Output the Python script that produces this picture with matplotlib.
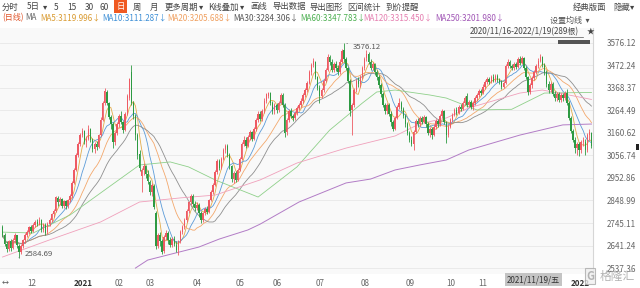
import numpy as np
import pandas as pd
import matplotlib
matplotlib.use('Agg')
import matplotlib.pyplot as plt
from matplotlib import transforms

plt.rcParams['font.family'] = ['Noto Sans CJK SC', 'DejaVu Sans']

# 日K 数据 2020/11/16 - 2022/1/19 (289根), 按月分行
opens = [
    2725, 2690, 2650, 2625, 2660, 2632, 2668, 2688, 2640, 2612, 2640,
    2665, 2690, 2703, 2725, 2710, 2735, 2750, 2742, 2760, 2715, 2735, 2702, 2740, 2760, 2785, 2800, 2862, 2840, 2855, 2825, 2845, 2822, 2850,
    2870, 2930, 2990, 3060, 3110, 3150, 3168, 3120, 3135, 3178, 3130, 3085, 3110, 3095, 3150, 3220, 3300, 3350, 3300, 3235,
    3200, 3120, 3160, 3200, 3240, 3210, 3175, 3250, 3320, 3440, 3300, 3240, 3150, 3065, 2960,
    2990, 3010, 2970, 2935, 2890, 2915, 2790, 2640, 2690, 2660, 2615, 2680, 2700, 2665, 2645, 2670, 2645, 2620, 2660, 2705, 2725, 2760, 2800,
    2840, 2870, 2835, 2815, 2830, 2790, 2760, 2790, 2810, 2795, 2850, 2890, 2920, 2980, 3030, 3000, 3040, 3080, 3100, 3060, 3010,
    2950, 2975, 2945, 2990, 3040, 3110, 3130, 3100, 3140, 3165, 3135, 3180, 3220, 3250, 3225, 3260, 3310, 3330,
    3345, 3300, 3260, 3290, 3265, 3300, 3335, 3290, 3165, 3220, 3260, 3240, 3230, 3255, 3275, 3290, 3310, 3335, 3360, 3390, 3440,
    3475, 3490, 3420, 3370, 3330, 3360, 3400, 3450, 3510, 3490, 3450, 3480, 3460, 3440, 3490, 3545, 3500, 3460, 3400, 3265, 3290, 3360,
    3400, 3385, 3420, 3460, 3505, 3525, 3490, 3460, 3480, 3440, 3420, 3380, 3340, 3290, 3260, 3290, 3250, 3210, 3180, 3230, 3280, 3300,
    3270, 3240, 3200, 3160, 3130, 3110, 3165, 3215, 3200, 3230, 3210, 3235, 3200, 3160, 3180, 3150, 3190, 3215, 3200, 3240,
    3260, 3210, 3150, 3190, 3220, 3245, 3265, 3255, 3280, 3270, 3300, 3330, 3290, 3305, 3280, 3300,
    3320, 3335, 3355, 3345, 3375, 3395, 3410, 3395, 3420, 3400, 3425, 3405, 3395, 3375, 3390, 3470, 3490, 3470, 3460, 3480, 3465, 3500,
    3485, 3505, 3460, 3420, 3350, 3380, 3415, 3440, 3470, 3495, 3510, 3475, 3440, 3385, 3360, 3385, 3340, 3320, 3340, 3315, 3335, 3320, 3345,
    3300, 3230, 3170, 3130, 3090, 3110, 3080, 3120, 3120, 3080, 3150, 3160,
]
highs = [
    2735, 2700, 2660, 2668, 2672, 2675, 2700, 2692, 2650, 2648, 2672,
    2700, 2715, 2732, 2735, 2745, 2758, 2765, 2772, 2765, 2745, 2745, 2748, 2768, 2792, 2810, 2872, 2870, 2865, 2860, 2852, 2850, 2858, 2878,
    2938, 2998, 3068, 3120, 3162, 3185, 3175, 3145, 3198, 3182, 3138, 3120, 3125, 3158, 3235, 3310, 3368, 3360, 3305, 3245,
    3210, 3170, 3210, 3250, 3262, 3218, 3258, 3340, 3415, 3474, 3310, 3250, 3160, 3080, 3000,
    3020, 3015, 2990, 2945, 2930, 2925, 2800, 2700, 2705, 2670, 2690, 2712, 2708, 2680, 2680, 2685, 2660, 2668, 2712, 2735, 2768, 2808, 2848,
    2880, 2878, 2845, 2840, 2838, 2800, 2798, 2820, 2822, 2858, 2898, 2930, 2990, 3040, 3040, 3050, 3090, 3110, 3108, 3068, 3015,
    2985, 2985, 3000, 3050, 3118, 3145, 3140, 3150, 3175, 3172, 3190, 3228, 3260, 3262, 3270, 3320, 3345, 3352,
    3350, 3310, 3300, 3300, 3310, 3345, 3345, 3298, 3230, 3270, 3275, 3250, 3262, 3285, 3300, 3320, 3345, 3370, 3400, 3450, 3485,
    3505, 3495, 3425, 3380, 3370, 3410, 3460, 3525, 3520, 3500, 3490, 3495, 3475, 3500, 3550, 3576.12, 3510, 3465, 3410, 3300, 3370, 3410,
    3420, 3430, 3470, 3510, 3545, 3535, 3500, 3490, 3485, 3450, 3430, 3390, 3350, 3300, 3300, 3300, 3260, 3220, 3240, 3290, 3320, 3310,
    3280, 3250, 3210, 3170, 3145, 3175, 3225, 3230, 3240, 3240, 3245, 3240, 3210, 3190, 3190, 3200, 3225, 3225, 3250, 3270,
    3265, 3215, 3200, 3230, 3255, 3275, 3280, 3290, 3295, 3310, 3330, 3345, 3315, 3315, 3310, 3330,
    3345, 3365, 3365, 3385, 3405, 3420, 3420, 3430, 3432, 3435, 3432, 3415, 3405, 3400, 3480, 3500, 3498, 3480, 3488, 3490, 3510, 3515,
    3515, 3510, 3470, 3425, 3390, 3425, 3450, 3480, 3505, 3525, 3515, 3485, 3450, 3400, 3395, 3395, 3355, 3350, 3350, 3345, 3345, 3355, 3365,
    3310, 3240, 3180, 3140, 3120, 3120, 3130, 3140, 3135, 3160, 3180, 3165,
]
lows = [
    2680, 2640, 2610, 2618, 2615, 2625, 2655, 2630, 2584.69, 2600, 2630,
    2655, 2680, 2695, 2700, 2705, 2725, 2730, 2735, 2705, 2705, 2690, 2695, 2732, 2752, 2775, 2795, 2825, 2830, 2815, 2815, 2810, 2815, 2842,
    2862, 2925, 2985, 3050, 3100, 3140, 3110, 3095, 3128, 3120, 3075, 3068, 3080, 3090, 3145, 3215, 3290, 3290, 3225, 3180,
    3090, 3105, 3150, 3190, 3200, 3160, 3170, 3245, 3315, 3290, 3225, 3130, 3040, 2985, 2890,
    2965, 2955, 2925, 2875, 2870, 2810, 2625, 2630, 2640, 2600, 2605, 2665, 2650, 2635, 2635, 2640, 2610, 2597, 2655, 2695, 2718, 2752, 2792,
    2830, 2820, 2800, 2805, 2775, 2745, 2750, 2780, 2785, 2790, 2845, 2880, 2915, 2972, 2990, 2995, 3035, 3070, 3050, 2995, 2935,
    2930, 2935, 2940, 2985, 3035, 3100, 3090, 3095, 3130, 3125, 3130, 3172, 3212, 3215, 3218, 3255, 3300, 3320,
    3290, 3248, 3250, 3255, 3258, 3295, 3280, 3140, 3150, 3212, 3230, 3215, 3222, 3245, 3265, 3280, 3300, 3325, 3350, 3385, 3430,
    3465, 3410, 3360, 3300, 3320, 3350, 3395, 3445, 3475, 3440, 3440, 3445, 3430, 3435, 3485, 3490, 3450, 3390, 3240, 3151, 3280, 3350,
    3375, 3375, 3410, 3450, 3495, 3480, 3450, 3450, 3430, 3405, 3370, 3325, 3280, 3250, 3250, 3240, 3195, 3170, 3175, 3225, 3270, 3260,
    3230, 3190, 3150, 3120, 3100, 3082, 3160, 3190, 3195, 3200, 3205, 3190, 3150, 3140, 3135, 3145, 3180, 3190, 3195, 3230,
    3200, 3114, 3140, 3185, 3210, 3240, 3245, 3250, 3260, 3265, 3290, 3280, 3280, 3270, 3265, 3290,
    3310, 3325, 3335, 3340, 3365, 3385, 3385, 3390, 3395, 3395, 3398, 3385, 3365, 3368, 3385, 3460, 3460, 3450, 3452, 3455, 3460, 3475,
    3478, 3450, 3410, 3335, 3340, 3370, 3405, 3435, 3462, 3488, 3465, 3430, 3375, 3345, 3350, 3330, 3310, 3310, 3305, 3305, 3310, 3312, 3290,
    3220, 3160, 3120, 3070, 3060, 3055, 3070, 3100, 3060, 3075, 3130, 3090,
]
closes = [
    2690, 2650, 2625, 2660, 2630, 2668, 2690, 2645, 2610, 2640, 2665,
    2690, 2705, 2725, 2710, 2735, 2750, 2740, 2760, 2715, 2735, 2700, 2740, 2760, 2785, 2800, 2865, 2840, 2855, 2825, 2845, 2822, 2850, 2870,
    2930, 2990, 3060, 3110, 3150, 3170, 3120, 3135, 3180, 3130, 3085, 3110, 3095, 3150, 3220, 3300, 3355, 3300, 3235, 3200,
    3120, 3160, 3200, 3240, 3210, 3175, 3250, 3330, 3410, 3300, 3240, 3150, 3060, 3000, 2990,
    3010, 2970, 2940, 2890, 2920, 2820, 2640, 2690, 2660, 2610, 2680, 2700, 2665, 2645, 2670, 2650, 2620, 2660, 2705, 2725, 2760, 2800, 2840,
    2870, 2835, 2815, 2830, 2790, 2760, 2790, 2810, 2795, 2850, 2890, 2920, 2980, 3030, 3000, 3040, 3080, 3100, 3060, 3010, 2950,
    2975, 2945, 2990, 3040, 3110, 3130, 3100, 3140, 3165, 3135, 3180, 3220, 3250, 3225, 3260, 3310, 3340, 3345,
    3300, 3260, 3290, 3265, 3300, 3335, 3290, 3160, 3220, 3260, 3240, 3230, 3255, 3275, 3290, 3310, 3335, 3360, 3390, 3440, 3475,
    3495, 3420, 3370, 3330, 3360, 3400, 3450, 3510, 3490, 3450, 3480, 3460, 3440, 3490, 3540, 3500, 3460, 3400, 3260, 3290, 3360, 3400,
    3385, 3420, 3460, 3500, 3525, 3490, 3460, 3480, 3440, 3420, 3380, 3340, 3290, 3260, 3290, 3250, 3210, 3180, 3230, 3280, 3300, 3270,
    3240, 3200, 3160, 3130, 3110, 3165, 3215, 3200, 3230, 3210, 3235, 3200, 3160, 3180, 3150, 3190, 3215, 3200, 3240, 3260,
    3210, 3150, 3190, 3220, 3245, 3265, 3255, 3280, 3270, 3300, 3320, 3290, 3305, 3280, 3300, 3320,
    3335, 3355, 3345, 3375, 3395, 3410, 3395, 3420, 3400, 3425, 3405, 3395, 3375, 3390, 3470, 3490, 3470, 3460, 3480, 3465, 3500, 3485,
    3505, 3460, 3420, 3350, 3380, 3415, 3440, 3470, 3495, 3510, 3475, 3440, 3385, 3360, 3385, 3340, 3320, 3340, 3315, 3335, 3320, 3345, 3300,
    3230, 3170, 3130, 3090, 3110, 3080, 3120, 3130, 3080, 3150, 3165, 3100,
]

# 长周期均线 (从图上读出的点: 第几根K线, 数值)
ma60_idx = [0, 15, 33, 48, 67, 82, 91, 104, 125, 144, 160, 176, 183, 192, 209, 217, 232, 249, 265, 288]
ma60_val = [2703, 2699, 2782, 2884, 3013, 3027, 3004, 2944, 2865, 3004, 3174, 3299, 3350, 3359, 3336, 3322, 3267, 3270, 3345, 3347.8]
ma120_idx = [0, 23, 48, 67, 87, 104, 126, 144, 168, 192, 204, 217, 228, 253, 264, 277, 288]
ma120_val = [2588, 2667, 2750, 2842, 2861, 2874, 2944, 3022, 3091, 3147, 3203, 3230, 3276, 3345, 3359, 3336, 3315.5]
ma250_idx = [65, 71, 96, 106, 120, 126, 145, 168, 180, 192, 204, 217, 228, 253, 274, 288]
ma250_val = [2537, 2574, 2634, 2671, 2713, 2740, 2842, 2930, 2948, 2990, 3013, 3036, 3082, 3151, 3198, 3202]

# 2021/12 的月份标签被光标日期框盖住, 不画
month_idx = [11, 34, 54, 69, 92, 113, 131, 152, 174, 196, 216, 232, 277]
month_lbl = ['12', '2021', '02', '03', '04', '05', '06', '07', '08', '09', '10', '11', '2022']

ma_names = ['MA5', 'MA10', 'MA20', 'MA30', 'MA60', 'MA120', 'MA250']
ma_last = ['3119.996', '3111.287', '3205.688', '3284.306', '3347.783', '3315.450', '3201.980']

W, H = 640, 288
RED, GREEN = '#ee5a63', '#2d9a42'
line_col = ['#e3ac4a', '#5b9bd8', '#f3a86c', '#8f8f8f', '#8fd08a', '#f0a0bb', '#b27cc6']
text_col = ['#d99a30', '#3d8fd6', '#f0a060', '#555555', '#4caf50', '#e57fb0', '#a055b5']


def fx(x):
    return x / W


def fy(y):
    return 1 - y / H


fig = plt.figure(figsize=(6.4, 2.88), dpi=100)
fig.patch.set_facecolor('white')
ax = fig.add_axes([fx(0), fy(274), fx(593), (274 - 28) / H])
ax.set_facecolor('#f9f9f9')

o = np.array(opens)
h = np.array(highs)
l = np.array(lows)
c = np.array(closes)
idx = np.arange(len(c))
cols = np.where(c >= o, RED, GREEN)

# 均线
cs = pd.Series(c)
for n, col in zip([5, 10, 20, 30], line_col[:4]):
    ax.plot(idx, cs.rolling(n, min_periods=1).mean(), color=col, lw=0.6, zorder=2)
ax.plot(ma60_idx, ma60_val, color=line_col[4], lw=0.6, zorder=2)
ax.plot(ma120_idx, ma120_val, color=line_col[5], lw=0.6, zorder=2)
ax.plot(ma250_idx, ma250_val, color=line_col[6], lw=0.7, zorder=2)

# K线
ax.vlines(idx, l, h, colors=cols, lw=0.6, zorder=3)
ax.bar(idx, np.maximum(np.abs(c - o), 2.5), bottom=np.minimum(o, c), width=0.72,
       color=cols, linewidth=0, zorder=3)

ax.set_xlim(-1.22, 288.76)
ax.set_ylim(2509.66, 3645.37)

yt = np.linspace(2537.36, 3576.12, 11)
ax.set_yticks(yt)
ax.set_yticklabels(['%.2f' % v for v in yt])
ax.yaxis.tick_right()
ax.tick_params(axis='y', length=0, pad=10, labelsize=5.8, labelcolor='#666666')
ax.set_xticks([])
ax.grid(axis='y', color='#e8e8e8', lw=0.6)
ax.set_axisbelow(True)
for s in ['top', 'bottom', 'left']:
    ax.spines[s].set_visible(False)
ax.spines['right'].set_color('#d6d6d6')
ax.spines['right'].set_linewidth(0.8)

# 月份
tr = transforms.blended_transform_factory(ax.transData, ax.transAxes)
for i, lb in zip(month_idx, month_lbl):
    ax.text(i + 0.9, -0.02, lb, transform=tr, ha='left', va='top', fontsize=5.8,
            color='#333333' if len(lb) == 4 else '#666666',
            fontweight='bold' if len(lb) == 4 else 'normal', clip_on=False)
ax.text(-0.5, -0.02, '↔', transform=tr, ha='left', va='top', fontsize=5, color='#555555')

# 最高最低标注
ax.annotate('2584.69', xy=(8, 2584.69), xytext=(11, 2600), fontsize=5.6, color='#555555',
            va='center', arrowprops=dict(arrowstyle='-', color='#777777', lw=0.5))
ax.annotate('3576.12', xy=(167, 3576.12), xytext=(171.5, 3558), fontsize=5.6, color='#555555',
            va='center', arrowprops=dict(arrowstyle='-', color='#777777', lw=0.5))

# 工具栏
tool = [(2, '分时'), (27, '5日'), (43, '▾'), (54, '5'), (67, '15'), (85, '30'), (100, '60'),
        (133, '周'), (150, '月'), (165, '更多周期'), (199, '▾'), (208, 'K线叠加'), (240, '▾'),
        (250, '画线'), (272, '导出数据'), (309, '导出图形'), (347, '区间统计'), (385, '到价提醒'),
        (573, '经典版面'), (613, '隐藏'), (630, '▾')]
for x, t in tool:
    fig.text(fx(x), fy(7), t, fontsize=6, color='#444444', va='center', ha='left')
fig.text(fx(120.5), fy(6.5), '日', fontsize=6, color='white', va='center', ha='center',
         bbox=dict(boxstyle='square,pad=0.25', fc='#f05a22', ec='none'))

# 均线图例
fig.text(fx(2), fy(18), '(日线)', fontsize=5.8, color='#e0552a', va='center')
fig.text(fx(25), fy(18), 'MA', fontsize=5.8, color='#666666', va='center')
lx = [40, 102, 167, 233, 300, 363, 435]
for x, nm, v, col in zip(lx, ma_names, ma_last, text_col):
    fig.text(fx(x), fy(18), nm + ':' + v + '↓', fontsize=5.8, color=col, va='center')

fig.text(fx(550), fy(20), '设置均线  ▾', fontsize=5.8, color='#555555', va='center')
fig.text(fx(470), fy(32), '2020/11/16-2022/1/19(289根)', fontsize=5.8, color='#444444',
         va='center')
fig.add_artist(plt.Line2D([fx(470), fx(583)], [fy(37), fy(37)], color='#555555', lw=0.5))
fig.text(fx(587), fy(31.5), '★', fontsize=5.5, color='#444444', va='center')
fig.add_artist(plt.Rectangle((fx(558), fy(44)), fx(32), 4 / H, color='#555555', lw=0))
fig.add_artist(plt.Rectangle((fx(636), fy(150)), fx(3), 6 / H, color='#222222', lw=0))

# 十字光标日期
fig.text(fx(533.5), fy(279.5), '2021/11/19/五', fontsize=5.8, color='#333333', ha='center',
         va='center', bbox=dict(boxstyle='square,pad=0.2', fc='#c4c4c4', ec='none'))

# 水印
fig.text(fx(590), fy(276), 'G', fontsize=8, color='#999999', alpha=0.7, ha='center', va='center',
         fontweight='bold', bbox=dict(boxstyle='square,pad=0.1', fc='#f0f0f0', ec='#aaaaaa',
                                      lw=0.8, alpha=0.8))
fig.text(fx(600), fy(276), '格隆汇', fontsize=8.5, color='#a0a0a0', alpha=0.8, va='center')

fig.savefig('out.png', dpi=100)
